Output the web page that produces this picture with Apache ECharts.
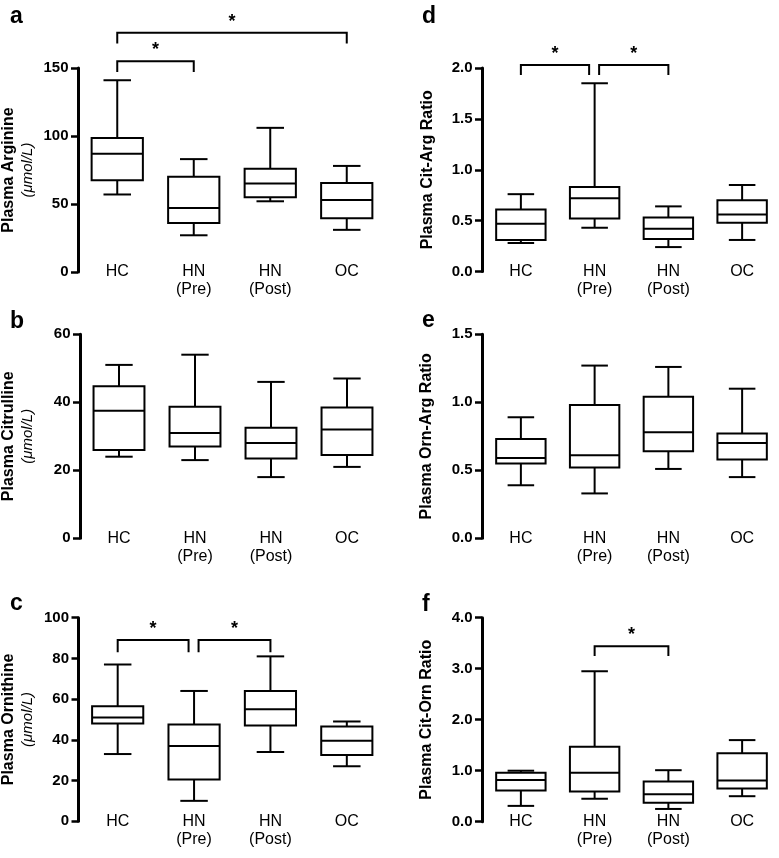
<!DOCTYPE html>
<html><head><meta charset="utf-8">
<script src="https://cdn.jsdelivr.net/npm/echarts@6/dist/echarts.min.js"></script>
<style>html,body{margin:0;padding:0;background:#fff}#c{width:779px;height:858px}</style>
</head><body><div id="c"></div>
<script>
// ---- data ----
const categories = ['HC', 'HN\n(Pre)', 'HN\n(Post)', 'OC'];
// each box: [min, Q1, median, Q3, max]
const arginine   = [[57, 67.5, 87, 98.5, 141], [27, 36, 47, 70, 83], [52, 55, 65, 76, 106], [31, 39.5, 53, 65.5, 78]];
const citrulline = [[24, 26, 37.5, 44.7, 51], [23, 27, 31, 38.7, 54], [18, 23.5, 28, 32.5, 46], [21, 24.5, 32, 38.5, 47]];
const ornithine  = [[33, 48, 51, 56.5, 77], [10, 20.5, 37, 47.5, 64], [34, 47, 55, 64, 81], [27, 32.5, 39.5, 46.5, 49]];
const citArg     = [[0.28, 0.31, 0.47, 0.61, 0.76], [0.43, 0.52, 0.72, 0.83, 1.85], [0.24, 0.32, 0.42, 0.53, 0.64], [0.31, 0.48, 0.56, 0.70, 0.85]];
const ornArg     = [[0.39, 0.55, 0.59, 0.73, 0.89], [0.33, 0.52, 0.61, 0.98, 1.27], [0.51, 0.64, 0.78, 1.04, 1.26], [0.45, 0.58, 0.70, 0.77, 1.10]];
const citOrn     = [[0.31, 0.61, 0.82, 0.96, 1.00], [0.45, 0.59, 0.96, 1.47, 2.95], [0.25, 0.37, 0.54, 0.79, 1.01], [0.50, 0.65, 0.81, 1.34, 1.60]];
// significance brackets: [fromIndex, toIndex, barLevel, tipLevel]
const sigA = [[0, 1, 155, 147], [0, 3, 176, 168]];
const sigB = [];
const sigC = [[0, 1, 89, 83], [1, 2, 89, 83]];
const sigD = [[0, 1, 2.03, 1.93], [1, 2, 2.03, 1.93]];
const sigE = [];
const sigF = [[1, 2, 3.44, 3.25]];
// y-axis tick settings: [max, interval]
const ticksA = [150, 50], ticksB = [60, 20], ticksC = [100, 20];
const ticksD = [2, 0.5], ticksE = [1.5, 0.5], ticksF = [4, 1];
const unitLabel = '(μmol/L)';

// ---- layout / style ----
const FONT = '"Liberation Sans", Arial, Helvetica, sans-serif';
const cols = [
  {left: 79, width: 306, offset: 1, letterX: 10},
  {left: 484, width: 305, offset: 2, letterX: 422}
];
const panels = [
  {letter: 'a', name: 'Plasma Arginine', unit: true, data: arginine, sig: sigA, ticks: ticksA, dec: 0, col: 0, top: 68, height: 204, nameGap: 40.5, letterY: 16.5},
  {letter: 'b', name: 'Plasma Citrulline', unit: true, data: citrulline, sig: sigB, ticks: ticksB, dec: 0, col: 0, top: 334.3, height: 204, nameGap: 42.5, letterY: 322},
  {letter: 'c', name: 'Plasma Ornithine', unit: true, data: ornithine, sig: sigC, ticks: ticksC, dec: 0, col: 0, top: 617.7, height: 203.5, nameGap: 41, letterY: 604},
  {letter: 'd', name: 'Plasma Cit-Arg Ratio', unit: false, data: citArg, sig: sigD, ticks: ticksD, dec: 1, col: 1, top: 68, height: 203.5, nameGap: 45, letterY: 16.5},
  {letter: 'e', name: 'Plasma Orn-Arg Ratio', unit: false, data: ornArg, sig: sigE, ticks: ticksE, dec: 1, col: 1, top: 334.3, height: 204, nameGap: 46, letterY: 321},
  {letter: 'f', name: 'Plasma Cit-Orn Ratio', unit: false, data: citOrn, sig: sigF, ticks: ticksF, dec: 1, col: 1, top: 617.7, height: 204, nameGap: 46, letterY: 605}
];

function renderBox(params, api) {
  const i = api.value(0);
  const band = api.size([1, 0])[0];
  const bw = band * 0.67, cw = band * 0.36;
  const pMin = api.coord([i, api.value(1)]);
  const pQ1 = api.coord([i, api.value(2)]);
  const pMed = api.coord([i, api.value(3)]);
  const pQ3 = api.coord([i, api.value(4)]);
  const pMax = api.coord([i, api.value(5)]);
  const x = pMed[0];
  const st = {stroke: '#000', lineWidth: 2, fill: null};
  return {type: 'group', children: [
    {type: 'line', shape: {x1: x, y1: pQ3[1], x2: x, y2: pMax[1]}, style: st},
    {type: 'line', shape: {x1: x - cw / 2, y1: pMax[1], x2: x + cw / 2, y2: pMax[1]}, style: st},
    {type: 'line', shape: {x1: x, y1: pQ1[1], x2: x, y2: pMin[1]}, style: st},
    {type: 'line', shape: {x1: x - cw / 2, y1: pMin[1], x2: x + cw / 2, y2: pMin[1]}, style: st},
    {type: 'rect', shape: {x: x - bw / 2, y: pQ3[1], width: bw, height: pQ1[1] - pQ3[1]}, style: {stroke: '#000', lineWidth: 2, fill: '#fff'}},
    {type: 'line', shape: {x1: x - bw / 2, y1: pMed[1], x2: x + bw / 2, y2: pMed[1]}, style: st}
  ]};
}

function makeBracketRender(sig) {
  return function (params, api) {
    const from = api.value(0), to = api.value(1), lvl = api.value(2), tip = api.value(3);
    const me = sig[params.dataIndex];
    let x1 = api.coord([from, lvl])[0], x2 = api.coord([to, lvl])[0];
    if (sig.some(s => s !== me && s[0] === to)) x2 -= 5.5;
    if (sig.some(s => s !== me && s[1] === from)) x1 += 4.5;
    const yL = api.coord([from, lvl])[1], yT = api.coord([from, tip])[1];
    return {type: 'group', children: [
      {type: 'polyline', shape: {points: [[x1, yT], [x1, yL], [x2, yL], [x2, yT]]}, style: {stroke: '#000', lineWidth: 2, fill: null}},
      {type: 'text', x: (x1 + x2) / 2, y: yL - 11, style: {text: '*', fontSize: 18, fontWeight: 'bold', fontFamily: FONT, align: 'center', verticalAlign: 'middle', fill: '#000'}}
    ]};
  };
}

const grid = [], xAxis = [], yAxis = [], series = [], graphic = [];
panels.forEach((p, k) => {
  const c = cols[p.col];
  grid.push({left: c.left, width: c.width, top: p.top, height: p.height, containLabel: false});
  xAxis.push({
    type: 'category', gridIndex: k, data: categories, boundaryGap: true,
    axisLine: {show: false}, axisTick: {show: false}, splitLine: {show: false},
    axisLabel: {interval: 0, margin: -9, fontSize: 16, lineHeight: 18, color: '#000', fontFamily: FONT}
  });
  yAxis.push({
    type: 'value', gridIndex: k, min: 0, max: p.ticks[0], interval: p.ticks[1], offset: c.offset,
    axisLine: {show: true, lineStyle: {color: '#000', width: 3}},
    axisTick: {show: true, length: 7, lineStyle: {color: '#000', width: 2.5}},
    splitLine: {show: false},
    axisLabel: {margin: 9.5, fontSize: 15, fontWeight: 'bold', color: '#000', fontFamily: FONT,
      formatter: v => v.toFixed(p.dec)},
    name: p.unit ? '{b|' + p.name + '}\n{u|' + unitLabel + '}' : '{b|' + p.name + '}',
    nameLocation: 'middle', nameRotate: 90, nameGap: p.nameGap,
    nameTextStyle: {rich: {
      b: {fontSize: 16, fontWeight: 'bold', fontFamily: FONT, color: '#000', lineHeight: 19},
      u: {fontSize: 15, fontStyle: 'italic', fontFamily: FONT, color: '#000', lineHeight: 19}
    }}
  });
  series.push({
    type: 'custom', xAxisIndex: k, yAxisIndex: k, renderItem: renderBox,
    data: p.data.map((d, i) => [i].concat(d)), encode: {x: 0, y: [1, 2, 3, 4, 5]}, silent: true
  });
  if (p.sig.length) {
    series.push({
      type: 'custom', xAxisIndex: k, yAxisIndex: k, renderItem: makeBracketRender(p.sig), clip: false,
      data: p.sig, encode: {x: [0, 1], y: [2, 3]}, silent: true
    });
  }
  graphic.push({type: 'text', x: c.letterX, y: p.letterY, style: {text: p.letter, fontSize: 23, fontWeight: 'bold', fontFamily: FONT, fill: '#000', verticalAlign: 'middle', align: 'left'}});
});

const chart = echarts.init(document.getElementById('c'));
chart.setOption({animation: false, backgroundColor: '#fff', grid, xAxis, yAxis, series, graphic});
</script>
</body></html>
